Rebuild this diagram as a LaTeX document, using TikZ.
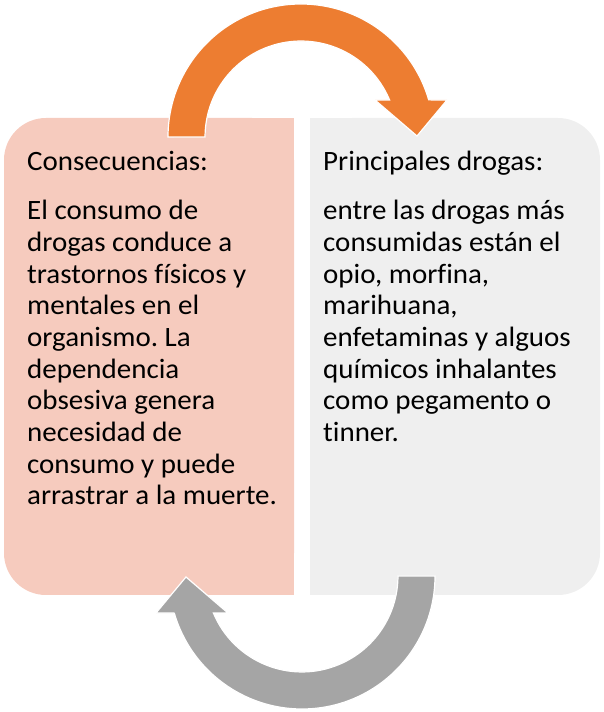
\documentclass[tikz,border=0pt]{standalone}
\usepackage{fontspec}
\setmainfont{Carlito}[FakeStretch=1.035, Ligatures=NoCommon]
\frenchspacing
\usetikzlibrary{positioning}
\definecolor{myorange}{HTML}{ED7D31}
\definecolor{mypink}{HTML}{F6CBBE}
\definecolor{mylightgray}{HTML}{EFEFEF}
\definecolor{mygray}{HTML}{A5A5A5}
\tikzset{
	boxtext/.style={
			inner sep=0pt,
			align=left,
			font=\fontsize{28}{31.7}\selectfont
		},
	cyclearrow/.style={
			draw=white,
			line width=1.2pt
		}
}

\begin{document}
\begin{tikzpicture}[x=1pt, y=1pt]
\useasboundingbox (0,0) rectangle (604,712);
    % the two boxes
    \fill[mypink, rounded corners=42pt] (4,117) rectangle (294,594);
    \fill[mypink] (200,117) rectangle (294,594);
    \fill[mylightgray, rounded corners=42pt] (310,117) rectangle (600,594);
    \fill[mylightgray] (310,117) rectangle (400,594);

    % the arrows
    \filldraw[cyclearrow, fill=myorange] (168,575) arc[start angle=180, end angle=16.2, radius=133]
        -- (447,612) -- (417,576) -- (375,612) -- (389.6,612)
        arc[start angle=22.7, end angle=180, radius=96] -- cycle;
    \filldraw[cyclearrow, fill=mygray, rotate around={180:(301.5,355.5)}] (168,575) arc[start angle=180, end angle=16.2, radius=133]
        -- (447,612) -- (417,576) -- (375,612) -- (389.6,612)
        arc[start angle=22.7, end angle=180, radius=96] -- cycle;

    \node[boxtext, anchor=base west] (cons) at (27,541) {Consecuencias:};
    \node[boxtext, anchor=north west] (consbody) at (27,512) {El consumo de\\ drogas conduce a\\ trastornos físicos y\\ mentales en el\\ organismo. La\\ dependencia\\ obsesiva genera\\ necesidad de\\ consumo y puede\\ arrastrar a la muerte.};

    \node[boxtext, anchor=base west] (drog) at (323,541) {Principales drogas:};
    \node[boxtext, anchor=north west] (drogbody) at (323,512) {entre las drogas más\\ consumidas están el\\ opio, morf\kern0pt ina,\\ marihuana,\\ enfetaminas y alguos\\ químicos inhalantes\\ como pegamento o\\ tinner.};
\end{tikzpicture}
\end{document}
